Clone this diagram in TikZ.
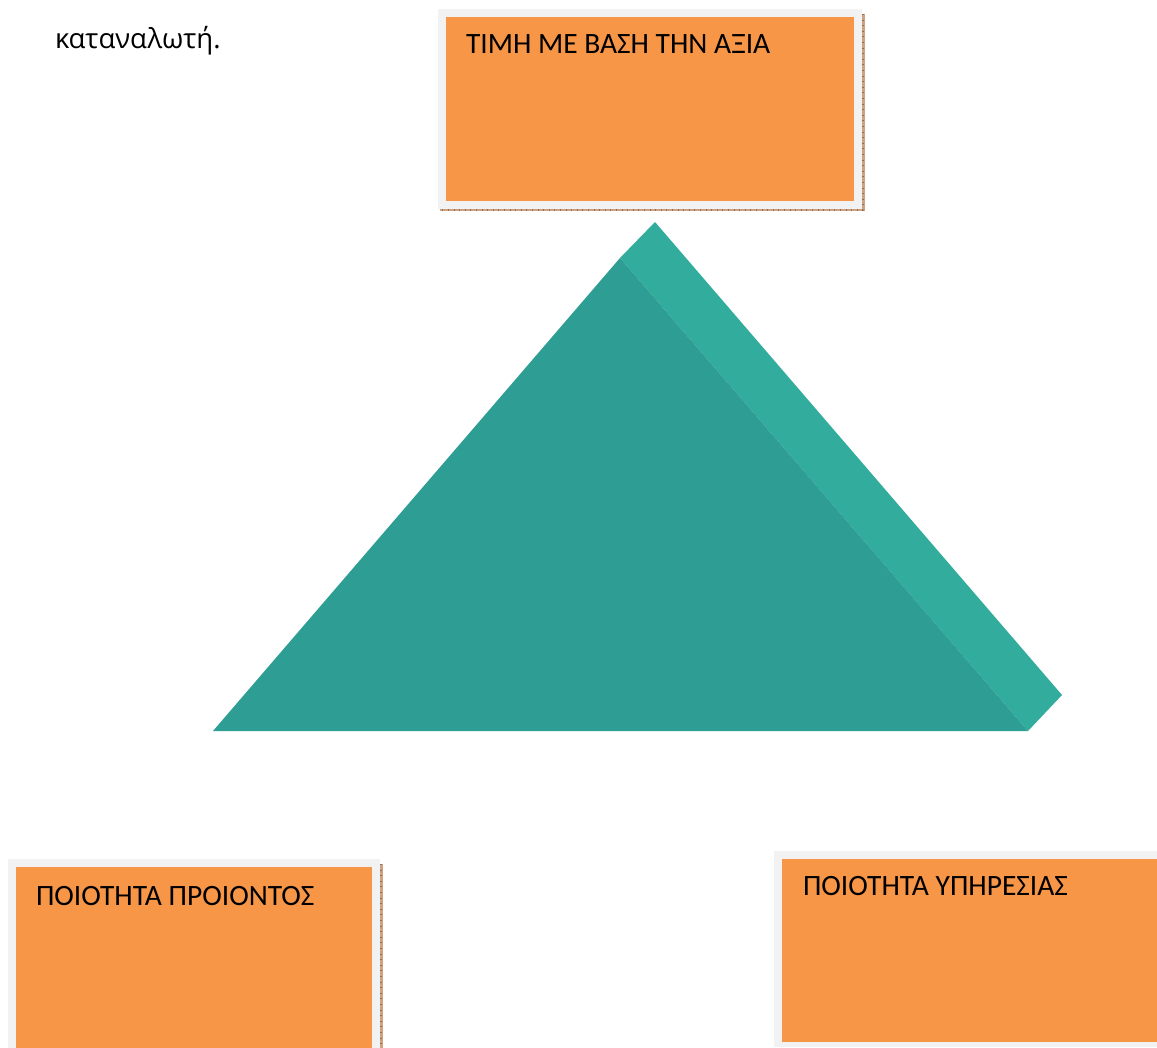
\documentclass[tikz,border=0pt]{standalone}
\usepackage{fontspec}
\setmainfont{Carlito}
\newfontfamily\bodyfont{Open Sans}
\usetikzlibrary{positioning}
\definecolor{boxorange}{RGB}{247,150,70}
\definecolor{framegray}{RGB}{242,242,242}
\definecolor{edgebrown}{RGB}{206,162,128}
\definecolor{frontteal}{RGB}{46,158,148}
\definecolor{sideteal}{RGB}{49,172,157}

\begin{document}
\begin{tikzpicture}[
x=1pt, y=-1pt,
every node/.style={inner sep=0pt, outer sep=0pt},
frame/.style={rectangle, fill=framegray, anchor=north west},
card/.style={rectangle, fill=boxorange, anchor=north west},
card_text/.style={font=\fontsize{29.5}{34}\selectfont, text=black, anchor=base west},
edge_line/.style={edgebrown, line width=3pt},
edge_tick/.style={edgebrown!70!black, line width=2.4pt, dash pattern=on 0.6pt off 5pt}
]

\clip (0,0) rectangle (1157,1048);
\fill[white] (0,0) rectangle (1157,1048);

% Caption line

\node[font=\bodyfont\fontsize{27.5}{32}\selectfont, anchor=base west] (caption) at (55,49) {καταναλωτή.};

% Top box: price

\draw[edge_line] (863,14) -- (863,210) -- (440,210);
\draw[edge_tick] (863,14) -- (863,210) -- (440,210);
\node[frame, minimum width=424pt, minimum height=200pt] (priceframe) at (438,9) {};
\node[card, minimum width=408pt, minimum height=184pt] (price) at (446,17) {};
\node[card_text] at ([shift={(20,37)}]price.north west) {ΤΙΜΗ ΜΕ ΒΑΣΗ ΤΗΝ ΑΞΙΑ};

% Pyramid

\fill[sideteal] (620,258) -- (655,222) -- (1062,695) -- (1028,731) -- cycle;
\fill[frontteal] (213,731) -- (620,258) -- (1028,731) -- cycle;

% Bottom left box: product

\draw[edge_line] (381,864) -- (381,1050);
\draw[edge_tick] (381,864) -- (381,1050);
\node[frame, minimum width=372pt, minimum height=200pt] (productframe) at (8,859) {};
\node[card, minimum width=356pt, minimum height=190pt] (product) at (16,867) {};
\node[card_text] at ([shift={(20,38)}]product.north west) {ΠΟΙΟΤΗΤΑ ΠΡΟΙΟΝΤΟΣ};

% Bottom right box: service

\node[frame, minimum width=400pt, minimum height=196pt] (serviceframe) at (774,851) {};
\node[card, minimum width=392pt, minimum height=183pt] (service) at (782,859) {};
\node[card_text] at ([shift={(21,36)}]service.north west) {ΠΟΙΟΤΗΤΑ ΥΠΗΡΕΣΙΑΣ};

\end{tikzpicture}
\end{document}
